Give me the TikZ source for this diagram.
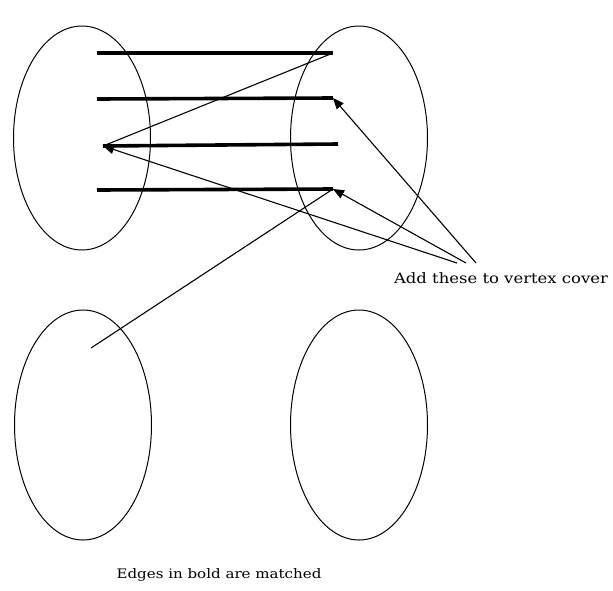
\documentclass[tikz,border=0pt]{standalone}
\usepackage{fontspec}
\setmainfont{DejaVu Serif}[FakeStretch=1.15]
\usetikzlibrary{shapes.geometric,arrows.meta}
\begin{document}
\begin{tikzpicture}[x=1pt,y=-1pt,
  part/.style={draw,ellipse,line width=1pt,minimum width=137pt,minimum height=224pt,inner sep=0pt},
  matched/.style={line width=3.6pt},
  thin/.style={line width=1.1pt},
  pointer/.style={thin,-{Triangle[length=11pt,width=9pt]}},
  lbl/.style={inner sep=0pt,anchor=base}]
  \useasboundingbox (0,0) rectangle (613,590);
  % four vertex sets
  \node[part] (A) at (82,138) {};
  \node[part] (B) at (359,138) {};
  \node[part,minimum height=230pt] (C) at (83,425) {};
  \node[part,minimum height=230pt] (D) at (359,425) {};
  % endpoints of the matched edges
  \coordinate (a1) at (97,53);   \coordinate (b1) at (333,53);
  \coordinate (a2) at (97,99);   \coordinate (b2) at (333,98);
  \coordinate (a3) at (103,146); \coordinate (b3) at (338,144);
  \coordinate (a4) at (97,190);  \coordinate (b4) at (333,189);
  \coordinate (c1) at (91,348);
  % matched edges
  \draw[matched] (a1) -- (b1);
  \draw[matched] (a2) -- (b2);
  \draw[matched] (a3) -- (b3);
  \draw[matched] (a4) -- (b4);
  % unmatched edges
  \draw[thin] (b1) -- (a3);
  \draw[thin] (c1) -- (b4);
  % labels
  \node[lbl,font=\fontsize{14.3}{16}\selectfont] (add) at (501,283) {Add these to vertex cover};
  \coordinate (p1) at (476,263);
  \coordinate (p2) at (466,263);
  \coordinate (p3) at (457,263);
  \draw[pointer] (p1) -- (b2);
  \draw[pointer] (p2) -- (b4);
  \draw[pointer] (p3) -- (a3);
  \node[lbl,font=\fontsize{13.1}{15}\selectfont] (note) at (219,578) {Edges in bold are matched};
\end{tikzpicture}
\end{document}
